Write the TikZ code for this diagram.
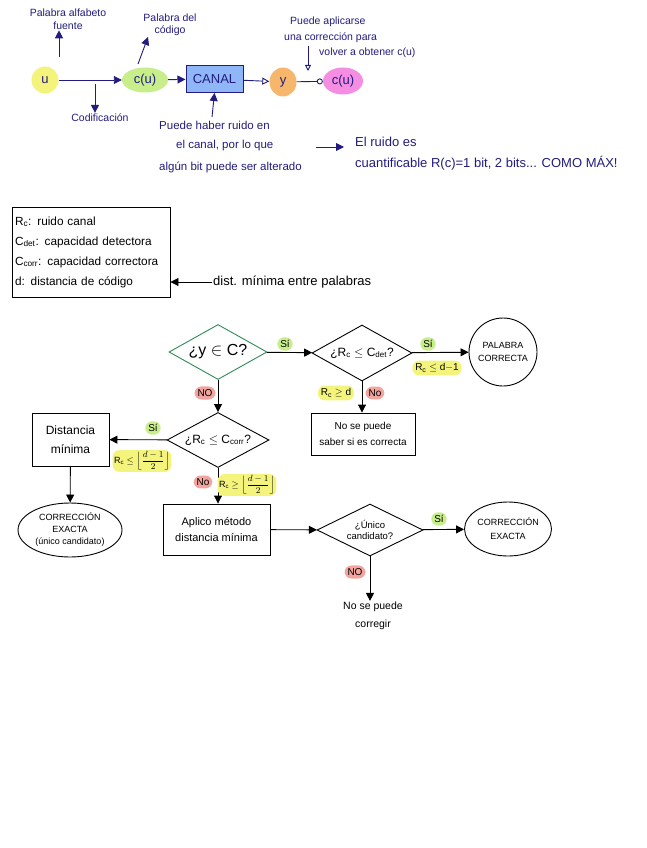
\documentclass[tikz,border=0pt]{standalone}
\usepackage{fontspec}
\setmainfont{Liberation Sans}
\usetikzlibrary{arrows.meta,shapes.geometric}
\definecolor{ink}{HTML}{221C7E}
\definecolor{hyellow}{HTML}{F4F47C}
\definecolor{hgreen}{HTML}{C8EE8C}
\definecolor{hred}{HTML}{F2A49E}
\definecolor{hpink}{HTML}{F58EE2}
\definecolor{horange}{HTML}{F6B66C}
\definecolor{canalblue}{HTML}{8FB6F6}
\definecolor{dgreen}{HTML}{2E8B57}
\tikzset{
  arr/.style={-{Triangle[length=8pt,width=8pt]}},
  blob/.style={ellipse, inner sep=1pt, text=ink, font=\fontsize{13}{15}\selectfont},
  ann/.style={text=ink, font=\fontsize{10.5}{12.5}\selectfont, align=center, inner sep=1pt},
  dia/.style={diamond, draw, line width=0.9pt, inner sep=0pt, aspect=1.8, align=center, font=\fontsize{12}{14}\selectfont},
  fbox/.style={draw, line width=0.9pt, align=center, font=\fontsize{11}{16}\selectfont},
  lab/.style={rounded corners=7pt, inner sep=3pt, font=\fontsize{10}{12}\selectfont},
}
\begin{document}
\begin{tikzpicture}[x=1pt,y=-1pt]
\useasboundingbox (0,0) rectangle (646,848);
% ---------- top row ----------
\node[blob, fill=hyellow, minimum width=27, minimum height=27] (u) at (45,80) {u};
\node[blob, fill=hgreen, minimum width=46, minimum height=25] (cu) at (145,80) {c(u)};
\node[draw=ink, fill=canalblue, line width=1pt, minimum width=57, minimum height=27, text=ink, font=\fontsize{13}{15}\selectfont] (canal) at (214.5,79) {CANAL};
\node[blob, fill=horange, minimum width=27, minimum height=29] (y) at (283,82) {y};
\node[blob, fill=hpink, minimum width=40, minimum height=27] (cu2) at (343,81) {c(u)};
\begin{scope}[ink, line width=0.9pt]
\draw[arr] (u) -- (cu);
\draw[arr] (cu) -- (canal);
\draw[-{Triangle[open,length=7pt,width=7pt]}] (canal) -- (y);
\draw[-{Circle[open,length=6pt]}] (y) -- (cu2);
\end{scope}
% annotations
\node[ann] (paf) at (68,19) {Palabra alfabeto\\fuente};
\coordinate (paf0) at (59,57);
\draw[ink, line width=0.9pt, arr] (paf0) -- (paf0 |- paf.south);
\node[ann] (pdc) at (170,25) {Palabra del\\código};
\coordinate (pdc0) at (138,64);
\coordinate (pdc1) at (148,37);
\draw[ink, line width=0.9pt, arr] (pdc0) -- (pdc1);
\node[ann] (cod) at (100,118) {Codificación};
\coordinate (cod0) at (95,84);
\draw[ink, line width=0.9pt, arr] (cod0) -- (cod0 |- cod.north);
\node[ann, anchor=west] (pa1) at (289,22) {Puede aplicarse};
\node[ann, anchor=west] (pa2) at (283,38) {una corrección para};
\node[ann, anchor=west] (pa3) at (318,53) {volver a obtener c(u)};
\coordinate (pa0) at (308,46);
\coordinate (pa4) at (308,71);
\draw[ink, line width=0.9pt, -{Triangle[open,length=6pt,width=6pt]}] (pa0) -- (pa4);
\node[ann, anchor=west, font=\fontsize{11.5}{13}\selectfont] (ph1) at (158,125) {Puede haber ruido en};
\node[ann, anchor=west, font=\fontsize{11.5}{13}\selectfont] (ph2) at (175,146) {el canal, por lo que};
\node[ann, anchor=west, font=\fontsize{11.5}{13}\selectfont] (ph3) at (158,167) {algún bit puede ser alterado};
\coordinate (ph0) at (212,117);
\draw[ink, line width=0.9pt, arr] (ph0) -- (canal.south);
\node[ann, anchor=west, font=\fontsize{13}{15}\selectfont] (er1) at (354,142) {El ruido es};
\node[ann, anchor=west, font=\fontsize{13}{15}\selectfont] (er2) at (354,163) {cuantificable R(c)=1 bit, 2 bits... COMO MÁX!};
\coordinate (er0) at (316,147);
\coordinate (er3) at (344,147);
\draw[ink, line width=0.9pt, arr] (er0) -- (er3);
% ---------- legend ----------
\node[draw, line width=0.9pt, minimum width=158, minimum height=90, text width=152, align=left, inner sep=3pt, font=\fontsize{11.8}{20}\selectfont] (leg) at (91,252)
  {R\textsubscript{c}: ruido canal\\C\textsubscript{det}: capacidad detectora\\C\textsubscript{corr}: capacidad correctora\\d: distancia de código};
\node[anchor=west, font=\fontsize{13}{15}\selectfont, inner sep=1pt] (dmin) at (212,282) {dist. mínima entre palabras};
\draw[line width=0.9pt, arr] (dmin.west) -- (leg.east |- dmin.west);
% ---------- flowchart ----------
\node[dia, draw=dgreen, minimum width=98, minimum height=55, font=\fontsize{16}{18}\selectfont] (d1) at (218,352) {¿y $\in$ C?};
\node[dia, minimum width=100, minimum height=56] (d2) at (362,353) {¿R\textsubscript{c} $\leq$ C\textsubscript{det}?};
\node[circle, draw, line width=0.9pt, minimum size=68, inner sep=0pt, align=center, font=\fontsize{9}{13}\selectfont] (pcor) at (503,352) {PALABRA\\CORRECTA};
\node[fbox, minimum width=104, minimum height=42, font=\fontsize{10}{16}\selectfont] (nsab) at (363,434) {No se puede\\saber si es correcta};
\node[dia, minimum width=102, minimum height=55] (d3) at (218,440) {¿R\textsubscript{c} $\leq$ C\textsubscript{corr}?};
\node[fbox, minimum width=77, minimum height=53, font=\fontsize{12}{19}\selectfont] (dmn) at (70.5,439.5) {Distancia\\mínima};
\node[ellipse, draw, line width=0.9pt, minimum width=104, minimum height=54, inner sep=0pt, align=center, font=\fontsize{9}{12}\selectfont] (ce1) at (70,530) {CORRECCIÓN\\EXACTA\\(único candidato)};
\node[fbox, minimum width=107, minimum height=51] (apl) at (216.5,529.5) {Aplico método\\distancia mínima};
\node[dia, minimum width=106, minimum height=52, font=\fontsize{9.5}{11.5}\selectfont] (d4) at (370,530) {¿Único\\candidato?};
\node[ellipse, draw, line width=0.9pt, minimum width=80, minimum height=54, inner sep=0pt, align=center, font=\fontsize{9}{14}\selectfont] (ce2) at (508,529) {CORRECCIÓN\\EXACTA};
\node[align=center, font=\fontsize{10.5}{18}\selectfont, inner sep=1pt] (ncor) at (373,616) {No se puede\\corregir};
\begin{scope}[line width=0.9pt]
\draw[arr] (d1) -- (d2);
\draw[arr] (d2) -- (pcor);
\draw[arr] (d2) -- (d2 |- nsab.north);
\draw[arr] (d1) -- (d3);
\draw[arr] (d3) -- (dmn);
\draw[arr] (dmn) -- (ce1);
\draw[arr] (d3) -- (apl.north -| d3);
\draw[arr] (apl) -- (d4);
\draw[arr] (d4) -- (ce2);
\draw[arr] (d4.south) -- (d4.south |- ncor.north);
\end{scope}
% labels
\node[lab, fill=hgreen] (l1) at (285,344) {Sí};
\node[lab, fill=hgreen] (l2) at (428,344) {Sí};
\node[lab, fill=hyellow] (l3) at (437,368) {R\textsubscript{c} $\leq$ d$-$1};
\node[lab, fill=hyellow] (l4) at (336,393) {R\textsubscript{c} $\geq$ d};
\node[lab, fill=hred] (l5) at (375,393) {No};
\node[lab, fill=hred] (l6) at (205,393) {NO};
\node[lab, fill=hgreen] (l7) at (153,428) {Sí};
\node[lab, fill=hyellow, inner sep=1.5pt, font=\fontsize{9}{11}\selectfont] (l8) at (142,461) {R\textsubscript{c} $\leq\left\lfloor\displaystyle\frac{d-1}{2}\right\rfloor$};
\node[lab, fill=hred] (l9) at (203,482) {No};
\node[lab, fill=hyellow, inner sep=1.5pt, font=\fontsize{9}{11}\selectfont] (l10) at (247,485) {R\textsubscript{c} $\geq\left\lfloor\displaystyle\frac{d-1}{2}\right\rfloor$};
\node[lab, fill=hgreen] (l11) at (439,519) {Sí};
\node[lab, fill=hred] (l12) at (355,572) {NO};
\end{tikzpicture}
\end{document}
